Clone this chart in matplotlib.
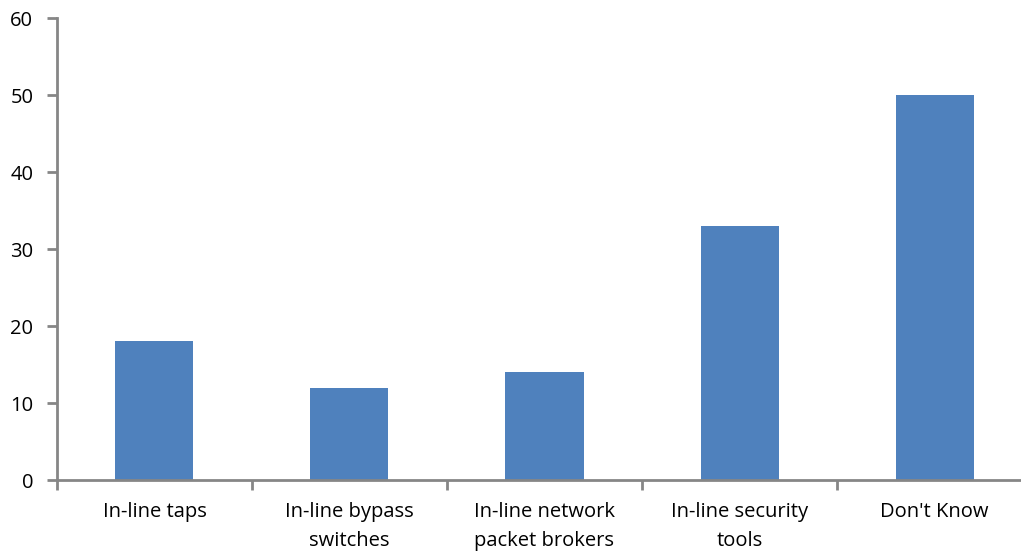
import numpy as np
from matplotlib import pyplot as plt

plt.rcParams['font.family'] = ['Open Sans', 'DejaVu Sans']

# survey answers and their shares
categories = ['In-line taps', 'In-line bypass\nswitches', 'In-line network\npacket brokers',
              'In-line security\ntools', "Don't Know"]
values = [18, 12, 14, 33, 50]
y_ticks = [0, 10, 20, 30, 40, 50, 60]

fig = plt.figure(figsize=(10.21, 5.55), dpi=100)
# the x axis runs past the right edge of the figure
ax = fig.add_axes([0.0558, 0.1351, 0.955, 0.8324])

x = np.arange(len(categories))
ax.bar(x, values, width=0.4, color='#4f81bd', zorder=2)

ax.set_xlim(-0.5, len(categories) - 0.5)
ax.set_ylim(0, 60)
ax.set_yticks(y_ticks)

# category labels without marks, boundary marks as minor ticks
ax.set_xticks(x)
ax.set_xticklabels(categories, fontsize=14.5, linespacing=1.6)
ax.tick_params(axis='x', which='major', length=0, pad=16)
ax.set_xticks(np.arange(-0.5, len(categories)), minor=True)
ax.tick_params(axis='x', which='minor', length=7, width=2, color='#868686', direction='out')
ax.tick_params(axis='y', length=7, width=2, color='#868686', labelsize=14.5, pad=10)

for side in ['top', 'right']:
    ax.spines[side].set_visible(False)
for side in ['left', 'bottom']:
    ax.spines[side].set_color('#868686')
    ax.spines[side].set_linewidth(2)

fig.savefig('out.png', dpi=100)
